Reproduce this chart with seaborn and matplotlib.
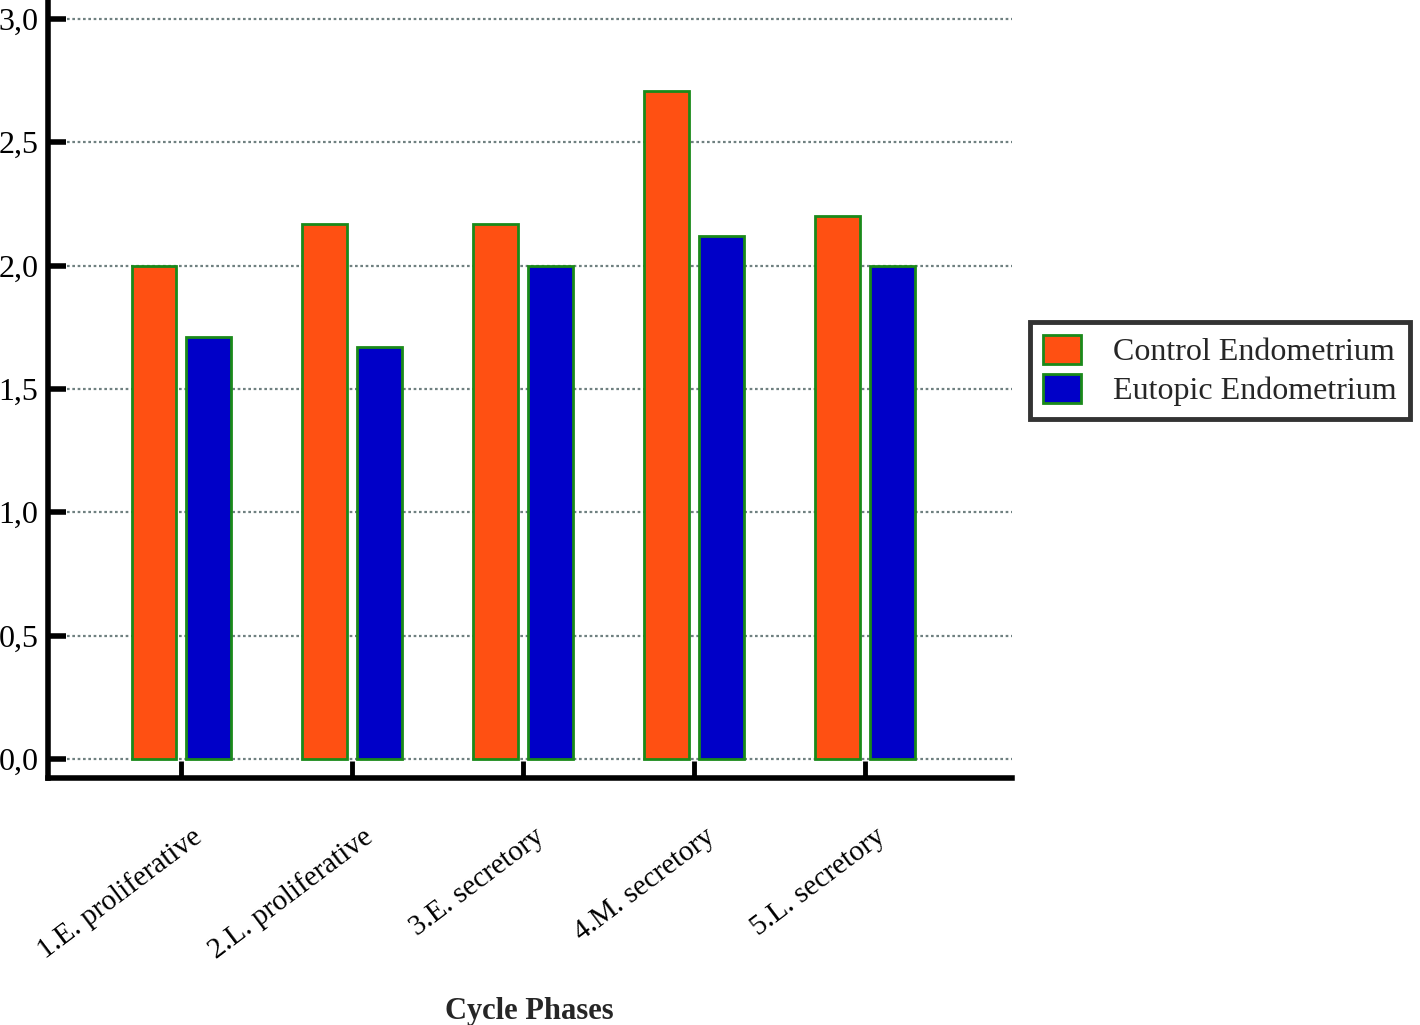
import matplotlib
matplotlib.use("Agg")
import matplotlib.pyplot as plt
import matplotlib.transforms as mtransforms
import seaborn as sns
import pandas as pd

phases = ["1.E. proliferative", "2.L. proliferative", "3.E. secretory",
          "4.M. secretory", "5.L. secretory"]
control = [2.00, 2.17, 2.17, 2.71, 2.20]
eutopic = [1.71, 1.67, 2.00, 2.12, 2.00]
series_names = ["Control Endometrium", "Eutopic Endometrium"]
y_ticks = [0.0, 0.5, 1.0, 1.5, 2.0, 2.5, 3.0]
y_tick_labels = ["0,0", "0,5", "1,0", "1,5", "2,0", "2,5", "3,0"]

df = pd.DataFrame({
    "phase": phases * 2,
    "value": control + eutopic,
    "group": [series_names[0]] * len(phases) + [series_names[1]] * len(phases),
})

sns.set_theme(style="white")
plt.rcParams['font.family'] = ['Liberation Serif', 'DejaVu Serif']

fig = plt.figure(figsize=(14.2, 10.25), dpi=100)
ax = fig.add_axes([0.0338, 0.241, 0.6789, 0.759])

palette = {series_names[0]: "#ff5012", series_names[1]: "#0000c8"}
sns.barplot(data=df, x="phase", y="value", hue="group", palette=palette,
            width=0.64, gap=0.18, edgecolor="#1a8a1a", linewidth=2,
            saturation=1, ax=ax, zorder=3)

ax.set_ylim(-0.077, 3.077)
ax.set_xlim(-0.78, 4.86)
ax.set_yticks(y_ticks)
ax.set_yticklabels(y_tick_labels, fontsize=23)
for y in y_ticks:
    ax.axhline(y, xmin=0.02, xmax=1.0, color="#6f8080",
               linestyle=(0, (1.2, 1.2)), linewidth=1.6, zorder=1)

ax.set_xticks(range(len(phases)))
ax.set_xticklabels([])
off = mtransforms.offset_copy(ax.get_xaxis_transform(), fig=fig,
                              x=18, y=-56, units="dots")
for i, name in enumerate(phases):
    ax.text(i, 0, name, transform=off, fontsize=21, rotation=37,
            ha="right", va="center", rotation_mode="anchor", color="black")

for s in ["top", "right"]:
    ax.spines[s].set_visible(False)
for s in ["left", "bottom"]:
    ax.spines[s].set_color("black")
    ax.spines[s].set_linewidth(4)

ax.tick_params(axis="y", direction="in", length=13, width=4, color="black",
               left=True, pad=7, labelcolor="black")
ax.tick_params(axis="x", direction="in", length=12, width=3.5, color="black",
               bottom=True, pad=4, labelcolor="black")

ax.set_xlabel("")
ax.set_ylabel("")
fig.text(0.373, 0.006, "Cycle Phases", fontsize=22, fontweight="bold",
         ha="center", va="baseline")

handles, labels = ax.get_legend_handles_labels()
if ax.legend_:
    ax.legend_.remove()
leg = fig.legend(handles, labels, loc="upper left",
                 bbox_to_anchor=(0.7255, 0.686), fontsize=23, frameon=True,
                 fancybox=False, edgecolor="black", handlelength=1.2,
                 handleheight=1.05, borderpad=0.4, labelspacing=0.2,
                 handletextpad=1.0, borderaxespad=0)
leg.get_frame().set_linewidth(3.5)

fig.savefig("out.png", dpi=100, facecolor="white")
